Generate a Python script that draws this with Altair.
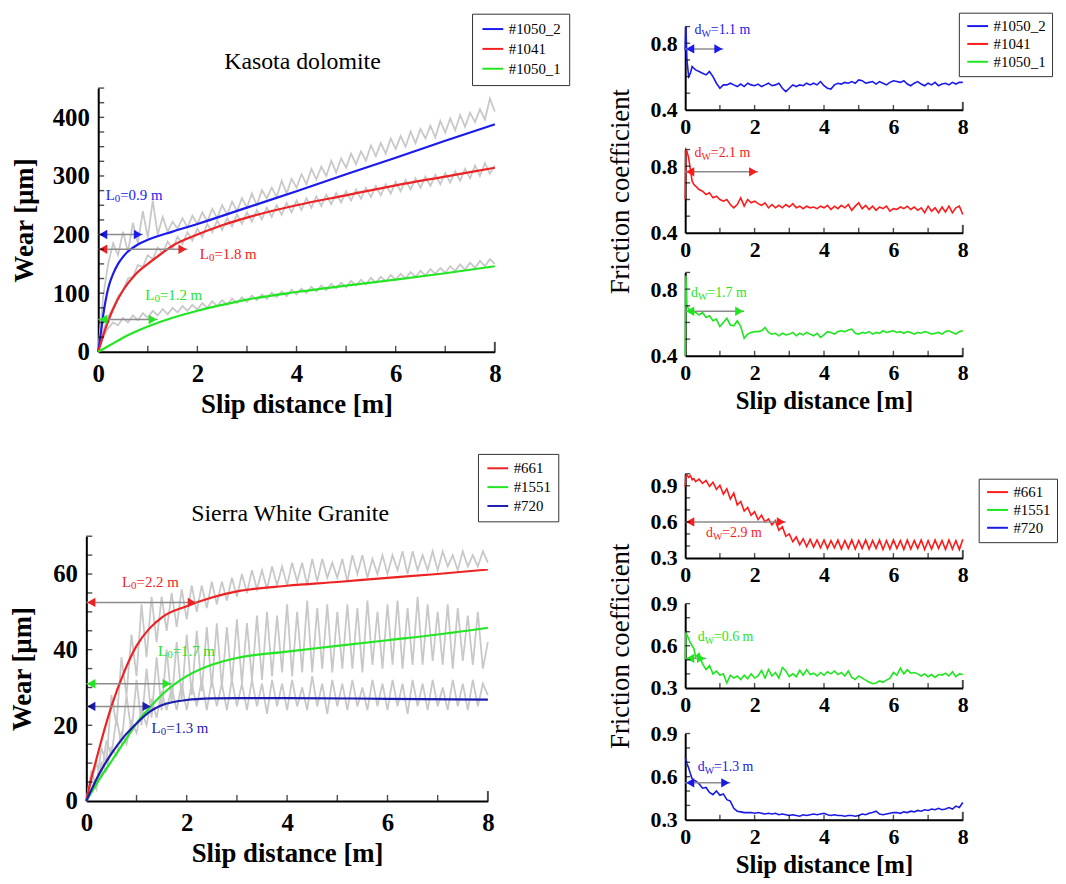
import altair as alt
import pandas as pd

FONT = "Liberation Serif"
RAW_GRAY = "#c8c8c8"
ARROW_GRAY = "#8c8c8c"

# sampling positions of the raw records (m)
X_W = [0.0, 0.1, 0.2, 0.3, 0.4, 0.5, 0.6, 0.7, 0.8, 0.9,
       1.0, 1.1, 1.2, 1.3, 1.4, 1.5, 1.6, 1.7, 1.8, 1.9,
       2.0, 2.1, 2.2, 2.3, 2.4, 2.5, 2.6, 2.7, 2.8, 2.9,
       3.0, 3.1, 3.2, 3.3, 3.4, 3.5, 3.6, 3.7, 3.8, 3.9,
       4.0, 4.1, 4.2, 4.3, 4.4, 4.5, 4.6, 4.7, 4.8, 4.9,
       5.0, 5.1, 5.2, 5.3, 5.4, 5.5, 5.6, 5.7, 5.8, 5.9,
       6.0, 6.1, 6.2, 6.3, 6.4, 6.5, 6.6, 6.7, 6.8, 6.9,
       7.0, 7.1, 7.2, 7.3, 7.4, 7.5, 7.6, 7.7, 7.8, 7.9,
       8.0]
X_F = [0.0, 0.02, 0.05, 0.1, 0.15, 0.2, 0.25, 0.3,
       0.4, 0.5, 0.6, 0.7, 0.8, 0.9, 1.0, 1.1, 1.2, 1.3,
       1.4, 1.5, 1.6, 1.7, 1.8, 1.9, 2.0, 2.1, 2.2, 2.3,
       2.4, 2.5, 2.6, 2.7, 2.8, 2.9, 3.0, 3.1, 3.2, 3.3,
       3.4, 3.5, 3.6, 3.7, 3.8, 3.9, 4.0, 4.1, 4.2, 4.3,
       4.4, 4.5, 4.6, 4.7, 4.8, 4.9, 5.0, 5.1, 5.2, 5.3,
       5.4, 5.5, 5.6, 5.7, 5.8, 5.9, 6.0, 6.1, 6.2, 6.3,
       6.4, 6.5, 6.6, 6.7, 6.8, 6.9, 7.0, 7.1, 7.2, 7.3,
       7.4, 7.5, 7.6, 7.7, 7.8, 7.9, 8.0]

# ---------------- Kasota dolomite: wear ----------------
KD_TITLE = "Kasota dolomite"
KD_NAMES = ["#1050_2", "#1041", "#1050_1"]
KD_COLORS = ["#1a1aee", "#ee2222", "#22e622"]
KD_RAW_1050_2 = [0, 95, 150, 185, 165, 205, 170, 220, 185, 240,
                 195, 258, 200, 230, 205, 222, 210, 228, 212, 232,
                 218, 238, 222, 244, 228, 250, 234, 256, 240, 262,
                 246, 270, 250, 276, 262, 280, 264, 292, 270, 295,
                 280, 303, 286, 312, 294, 316, 300, 326, 306, 330,
                 314, 338, 320, 342, 326, 352, 334, 356, 338, 364,
                 346, 368, 350, 376, 356, 380, 364, 386, 366, 394,
                 374, 398, 378, 404, 384, 408, 392, 414, 396, 432,
                 410]
KD_RAW_1041 = [0, 35, 60, 75, 95, 105, 125, 128, 148, 145,
               165, 158, 178, 168, 188, 176, 196, 184, 204, 190,
               210, 196, 218, 204, 224, 208, 228, 214, 234, 218,
               238, 222, 242, 226, 246, 230, 250, 234, 254, 238,
               258, 242, 262, 246, 265, 249, 268, 252, 271, 255,
               274, 258, 277, 261, 280, 264, 283, 267, 286, 270,
               290, 274, 293, 277, 296, 280, 299, 283, 302, 286,
               305, 289, 308, 292, 312, 296, 318, 300, 322, 304,
               318]
KD_RAW_1050_1 = [0, 25, 40, 50, 45, 58, 50, 62, 54, 66,
                 58, 70, 62, 73, 64, 75, 67, 78, 70, 80,
                 72, 83, 75, 86, 78, 88, 80, 91, 83, 93,
                 85, 96, 88, 98, 90, 101, 93, 103, 95, 106,
                 98, 108, 100, 111, 103, 113, 105, 116, 108, 118,
                 110, 121, 113, 123, 115, 126, 118, 128, 120, 131,
                 123, 133, 125, 136, 128, 138, 130, 141, 133, 143,
                 135, 146, 138, 149, 140, 152, 143, 155, 146, 158,
                 150]
KD_FIT_X_1050_2 = [0, 0.05, 0.1, 0.2, 0.3, 0.4, 0.5, 0.6, 0.8, 1.0, 1.5, 2, 3, 4, 5, 6, 7, 8]
KD_FIT_1050_2 = [0, 30, 62, 108, 133, 150, 162, 171, 183, 191, 205, 218, 246, 274, 303, 331, 360, 388]
KD_FIT_X_1041 = [0, 0.1, 0.2, 0.3, 0.5, 0.75, 1.0, 1.25, 1.5, 2.0, 2.5, 3.0, 4.0, 5.0, 6.0, 7.0, 8.0]
KD_FIT_1041 = [0, 28, 52, 73, 105, 132, 150, 166, 181, 200, 216, 229, 250, 267, 284, 299, 314]
KD_FIT_X_1050_1 = [0, 0.25, 0.5, 1.0, 1.5, 2.0, 2.5, 3.0, 4.0, 5.0, 6.0, 7.0, 8.0]
KD_FIT_1050_1 = [0, 12, 24, 43, 58, 70, 80, 89, 102, 113, 123, 134, 146]
KD_L0 = [0.9, 1.8, 1.2]
KD_ARROW_Y = [200, 175, 55]
KD_LABEL_X = [0.15, 2.05, 0.95]
KD_LABEL_Y = [268, 167, 97]
KD_LABEL = ["=0.9 m", "=1.8 m", "=1.2 m"]

# ---------------- Sierra White Granite: wear ----------------
SW_TITLE = "Sierra White Granite"
SW_NAMES = ["#661", "#1551", "#720"]
SW_COLORS = ["#ee2222", "#22e622", "#1c1cb0"]
SW_RAW_661 = [0, 8, 4, 14, 10, 28, 20, 38, 28, 44,
              33, 52, 38, 54, 42, 54, 45, 55, 46, 56,
              48, 57, 50, 57, 51, 58, 52, 58, 53, 59,
              54, 60, 55, 61, 56, 61, 56, 62, 57, 62,
              57, 63, 58, 63, 57, 64, 58, 64, 59, 63,
              59, 64, 58, 65, 60, 65, 59, 64, 60, 65,
              60, 65, 61, 66, 60, 66, 61, 65, 61, 66,
              61, 66, 62, 65, 61, 66, 62, 65, 62, 66,
              63]
SW_RAW_1551 = [0, 5, 10, 6, 16, 12, 22, 15, 28, 18,
               32, 20, 35, 22, 38, 24, 40, 26, 42, 27,
               44, 28, 45, 29, 46, 30, 47, 30, 46, 31,
               48, 31, 47, 32, 49, 32, 50, 33, 49, 34,
               52, 33, 50, 34, 53, 34, 51, 35, 52, 34,
               50, 35, 52, 35, 51, 34, 53, 36, 50, 35,
               52, 36, 53, 35, 51, 36, 54, 36, 52, 37,
               50, 36, 52, 35, 51, 37, 49, 36, 50, 35,
               42]
SW_RAW_720 = [0, 6, 3, 10, 8, 14, 12, 18, 15, 21,
              18, 24, 20, 27, 22, 29, 24, 30, 24, 31,
              24, 31, 25, 32, 24, 32, 25, 31, 24, 32,
              25, 31, 24, 32, 25, 31, 23, 32, 25, 31,
              24, 32, 25, 30, 24, 33, 25, 31, 23, 32,
              25, 31, 24, 32, 25, 30, 24, 32, 25, 31,
              24, 32, 25, 31, 23, 32, 25, 31, 24, 32,
              25, 30, 24, 32, 25, 31, 24, 32, 25, 31,
              28]
SW_FIT_X_661 = [0, 0.1, 0.2, 0.3, 0.5, 0.75, 1.0, 1.25, 1.5, 2.0, 2.5, 3.0, 4.0, 5.0, 6.0, 7.0, 8.0]
SW_FIT_661 = [0, 6, 11, 16, 25, 34, 41, 45.5, 48.5, 51.5, 53.8, 55.4, 56.9, 57.9, 59, 60, 61.2]
SW_FIT_X_1551 = [0, 0.25, 0.5, 0.75, 1.0, 1.25, 1.5, 2.0, 2.5, 3.0, 4.0, 5.0, 6.0, 7.0, 8.0]
SW_FIT_1551 = [0, 5.5, 10.5, 15.5, 20.5, 24.5, 28, 33, 36, 37.8, 39.5, 41, 42.5, 44, 45.8]
SW_FIT_X_720 = [0, 0.25, 0.5, 0.75, 1.0, 1.25, 1.5, 2.0, 2.5, 3.0, 4.0, 6.0, 8.0]
SW_FIT_720 = [0, 7, 12.5, 17, 20.5, 23.5, 25.3, 26.7, 27.1, 27.2, 27.2, 27, 26.8]
SW_L0 = [2.2, 1.7, 1.3]
SW_ARROW_Y = [52.5, 31, 25]
SW_LABEL_X = [0.71, 1.43, 1.3]
SW_LABEL_Y = [58, 39.7, 19.2]
SW_LABEL = ["=2.2 m", "=1.7 m", "=1.3 m"]

# ---------------- friction coefficients ----------------
TR_NAMES = ["#1050_2", "#1041", "#1050_1"]
TR_COLORS = ["#1a1aee", "#ff1a1a", "#1ee61e"]
FR_1050_2 = [0.76, 0.90, 0.70, 0.60, 0.62, 0.66, 0.65, 0.64,
             0.63, 0.62, 0.61, 0.63, 0.60, 0.56, 0.53, 0.55, 0.55, 0.56,
             0.55, 0.54, 0.555, 0.54, 0.56, 0.55, 0.545, 0.555, 0.54, 0.55,
             0.56, 0.545, 0.55, 0.56, 0.53, 0.51, 0.53, 0.55, 0.54, 0.55,
             0.545, 0.56, 0.55, 0.56, 0.55, 0.57, 0.545, 0.53, 0.525, 0.55,
             0.56, 0.555, 0.565, 0.56, 0.57, 0.56, 0.58, 0.575, 0.56, 0.565,
             0.57, 0.555, 0.57, 0.56, 0.55, 0.565, 0.575, 0.57, 0.565, 0.575,
             0.555, 0.545, 0.56, 0.57, 0.555, 0.545, 0.56, 0.55, 0.565, 0.545,
             0.555, 0.56, 0.55, 0.565, 0.555, 0.565, 0.565]
FR_1041 = [0.60, 0.90, 0.89, 0.85, 0.78, 0.71, 0.69, 0.68,
           0.66, 0.65, 0.63, 0.64, 0.61, 0.62, 0.60, 0.59, 0.60, 0.57,
           0.55, 0.57, 0.61, 0.56, 0.60, 0.58, 0.59, 0.575, 0.565, 0.58,
           0.55, 0.57, 0.55, 0.565, 0.55, 0.57, 0.555, 0.575, 0.55, 0.56,
           0.545, 0.56, 0.55, 0.555, 0.545, 0.56, 0.55, 0.565, 0.54, 0.56,
           0.545, 0.565, 0.55, 0.57, 0.535, 0.56, 0.58, 0.545, 0.565, 0.54,
           0.56, 0.535, 0.555, 0.545, 0.56, 0.53, 0.545, 0.54, 0.555, 0.545,
           0.56, 0.54, 0.555, 0.535, 0.55, 0.52, 0.56, 0.53, 0.55, 0.52,
           0.555, 0.525, 0.56, 0.52, 0.55, 0.56, 0.51]
FR_1050_1 = [0.40, 0.88, 0.70, 0.68, 0.675, 0.67, 0.665, 0.66,
             0.645, 0.66, 0.63, 0.64, 0.61, 0.62, 0.575, 0.60, 0.625, 0.585,
             0.58, 0.61, 0.575, 0.505, 0.53, 0.54, 0.545, 0.545, 0.55, 0.57,
             0.54, 0.53, 0.535, 0.52, 0.535, 0.525, 0.53, 0.54, 0.52, 0.535,
             0.525, 0.54, 0.53, 0.52, 0.535, 0.51, 0.525, 0.545, 0.54, 0.53,
             0.545, 0.55, 0.545, 0.555, 0.56, 0.535, 0.53, 0.54, 0.535, 0.545,
             0.53, 0.54, 0.535, 0.55, 0.54, 0.545, 0.55, 0.54, 0.545, 0.535,
             0.545, 0.54, 0.53, 0.54, 0.535, 0.545, 0.54, 0.53, 0.535, 0.54,
             0.53, 0.545, 0.55, 0.54, 0.53, 0.545, 0.55]
TR_DW = [1.1, 2.1, 1.7]
TR_ARROW_Y = [0.766, 0.766, 0.667]
TR_LABEL_X = [0.27, 0.27, 0.17]
TR_LABEL_Y = [0.88, 0.88, 0.776]
TR_LABEL = ["=1.1 m", "=2.1 m", "=1.7 m"]

BR_NAMES = ["#661", "#1551", "#720"]
BR_COLORS = ["#ff1a1a", "#1ee61e", "#1a1ae6"]
FR_661 = [0.89, 0.98, 0.99, 0.97, 0.985, 0.95, 0.96, 0.935,
          0.955, 0.92, 0.945, 0.895, 0.93, 0.87, 0.905, 0.83, 0.875, 0.79,
          0.84, 0.74, 0.77, 0.69, 0.72, 0.655, 0.685, 0.62, 0.655, 0.60,
          0.625, 0.575, 0.61, 0.53, 0.56, 0.48, 0.50, 0.435, 0.475, 0.41,
          0.46, 0.395, 0.455, 0.39, 0.45, 0.385, 0.45, 0.38, 0.445, 0.385,
          0.45, 0.375, 0.445, 0.38, 0.45, 0.375, 0.445, 0.38, 0.45, 0.375,
          0.445, 0.38, 0.45, 0.37, 0.445, 0.375, 0.45, 0.38, 0.445, 0.37,
          0.45, 0.375, 0.445, 0.38, 0.45, 0.37, 0.445, 0.375, 0.45, 0.38,
          0.445, 0.37, 0.45, 0.375, 0.445, 0.37, 0.455]
FR_1551 = [0.50, 0.69, 0.68, 0.65, 0.62, 0.60, 0.58, 0.52,
           0.545, 0.47, 0.43, 0.46, 0.40, 0.42, 0.39, 0.40, 0.335, 0.39,
           0.37, 0.385, 0.36, 0.39, 0.365, 0.40, 0.37, 0.385, 0.425, 0.37,
           0.43, 0.385, 0.41, 0.37, 0.445, 0.42, 0.38, 0.40, 0.38, 0.425,
           0.39, 0.43, 0.395, 0.405, 0.385, 0.41, 0.39, 0.415, 0.40, 0.42,
           0.395, 0.41, 0.385, 0.42, 0.375, 0.36, 0.385, 0.37, 0.355, 0.34,
           0.33, 0.335, 0.35, 0.34, 0.355, 0.37, 0.41, 0.39, 0.44, 0.40,
           0.43, 0.405, 0.41, 0.40, 0.385, 0.40, 0.38, 0.395, 0.375, 0.395,
           0.39, 0.405, 0.385, 0.415, 0.38, 0.40, 0.395]
FR_720 = [0.73, 0.72, 0.69, 0.66, 0.62, 0.585, 0.575, 0.57,
          0.55, 0.52, 0.525, 0.49, 0.475, 0.50, 0.47, 0.48, 0.44, 0.43,
          0.38, 0.36, 0.355, 0.35, 0.35, 0.35, 0.345, 0.35, 0.345, 0.34,
          0.345, 0.34, 0.345, 0.335, 0.34, 0.335, 0.33, 0.335, 0.33, 0.325,
          0.335, 0.33, 0.335, 0.34, 0.335, 0.34, 0.345, 0.335, 0.33, 0.335,
          0.33, 0.33, 0.325, 0.33, 0.33, 0.325, 0.33, 0.34, 0.335, 0.345,
          0.35, 0.36, 0.34, 0.335, 0.34, 0.345, 0.35, 0.35, 0.345, 0.355,
          0.35, 0.36, 0.355, 0.365, 0.36, 0.37, 0.365, 0.375, 0.37, 0.38,
          0.37, 0.375, 0.385, 0.375, 0.395, 0.385, 0.42]
BR_DW = [2.9, 0.6, 1.3]
BR_ARROW_Y = [0.6, 0.51, 0.557]
BR_LABEL_X = [0.6, 0.36, 0.36]
BR_LABEL_Y = [0.505, 0.66, 0.67]
BR_LABEL = ["=2.9 m", "=0.6 m", "=1.3 m"]

X_MAJOR = [0, 2, 4, 6, 8]
X_MINOR = [1, 2, 3, 4, 5, 6, 7]


def axis(**kw):
    d = dict(grid=False, ticks=False, domainColor="black", domainWidth=2,
             labelFont=FONT, labelFontWeight="bold", labelColor="black",
             titleFont=FONT, titleColor="black", labelFlush=False, labelOverlap=False)
    d.update(kw)
    return alt.Axis(**d)


def legend(lx, ly, pad=6, rowpad=4):
    return alt.Legend(title=None, orient="none", legendX=lx, legendY=ly, direction="vertical",
                      fillColor="white", strokeColor="#333333", padding=pad,
                      symbolType="M-1,0H3.2", symbolSize=100, symbolStrokeWidth=2,
                      labelFont=FONT, labelFontSize=15, labelColor="black",
                      labelOffset=14, rowPadding=rowpad, labelLimit=200)


class Enc:
    """positional channel builders sharing one scale and one axis per panel"""
    def __init__(self, xs, ys, xa, ya):
        self.xs, self.ys, self.xa, self.ya = xs, ys, xa, ya

    def X(self, f):
        return alt.X(f, scale=self.xs, axis=self.xa)

    def Y(self, f):
        return alt.Y(f, scale=self.ys, axis=self.ya)


def spacer():
    return alt.Chart(pd.DataFrame({"a": [0]})).mark_point(opacity=0, size=0).encode(
        x=alt.value(0), y=alt.value(0)).properties(width=1, height=1)


def tick_layers(E, yvals, y0, size=6, endsize=10):
    xdf = pd.DataFrame({"t": X_MINOR, "b": [y0] * len(X_MINOR)})
    edf = pd.DataFrame({"t": [8], "b": [y0]})
    ydf = pd.DataFrame({"t": yvals, "b": [0] * len(yvals)})
    xt = alt.Chart(xdf).mark_tick(orient="vertical", size=size, thickness=1.4, color="black",
                                  yOffset=-size / 2).encode(x=E.X("t:Q"), y=E.Y("b:Q"))
    xe = alt.Chart(edf).mark_tick(orient="vertical", size=endsize, thickness=2, color="black",
                                  yOffset=-endsize / 2).encode(x=E.X("t:Q"), y=E.Y("b:Q"))
    yt = alt.Chart(ydf).mark_tick(orient="horizontal", size=size, thickness=1.4, color="black",
                                  xOffset=size / 2).encode(x=E.X("b:Q"), y=E.Y("t:Q"))
    return [xt, xe, yt]


def annot_layers(E, ends, ay, colors, lx, ly, rest, base, sub, bsize, ssize, wb, wsub):
    adf = pd.DataFrame({"x0": [0] * len(ends), "x1": ends, "y": ay, "c": colors})
    tdf = pd.DataFrame({"x": lx, "y": ly, "rest": rest, "c": colors})
    F = alt.Fill("c:N", scale=None)
    line = alt.Chart(adf).mark_rule(color=ARROW_GRAY, strokeWidth=1.5).encode(
        x=E.X("x0:Q"), x2="x1:Q", y=E.Y("y:Q"))
    lh = alt.Chart(adf).mark_point(shape="triangle-left", filled=True, size=90, opacity=1,
                                   strokeWidth=0, xOffset=5).encode(x=E.X("x0:Q"), y=E.Y("y:Q"), fill=F)
    rh = alt.Chart(adf).mark_point(shape="triangle-right", filled=True, size=90, opacity=1,
                                   strokeWidth=0, xOffset=-5).encode(x=E.X("x1:Q"), y=E.Y("y:Q"), fill=F)
    t1 = alt.Chart(tdf).mark_text(align="left", baseline="middle", font=FONT, fontSize=bsize,
                                  text=base).encode(x=E.X("x:Q"), y=E.Y("y:Q"), fill=F)
    t2 = alt.Chart(tdf).mark_text(align="left", baseline="middle", font=FONT, fontSize=ssize,
                                  text=sub, dx=wb, dy=4).encode(x=E.X("x:Q"), y=E.Y("y:Q"), fill=F)
    t3 = alt.Chart(tdf).mark_text(align="left", baseline="middle", font=FONT, fontSize=bsize,
                                  dx=wb + wsub).encode(x=E.X("x:Q"), y=E.Y("y:Q"), fill=F, text="rest:N")
    return [line, lh, rh, t1, t2, t3]


def wear_panel(title, title_x, title_dy, raws, fits, names, colors, ymax, yvals, ytick_vals,
               w, h, lx, ly, tpad, ends, ay, labx, laby, rest, lpad, lrow):
    xs = alt.Scale(domain=[0, 8], nice=False)
    ys = alt.Scale(domain=[0, ymax], nice=False)
    xaxis = axis(values=X_MAJOR, format="d", labelFontSize=25, labelPadding=10, orient="bottom",
                 title="Slip distance [m]", titleFontSize=27, titleFontWeight="bold", titlePadding=5)
    yaxis = axis(values=yvals, format="d", labelFontSize=25, labelPadding=9, orient="left",
                 title="Wear [μm]", titleFontSize=27, titleFontWeight="bold", titlePadding=tpad)
    E = Enc(xs, ys, xaxis, yaxis)
    rx, ry, rs = [], [], []
    for i, r in enumerate(raws):
        for a, b in zip(X_W, r):
            rx.append(a); ry.append(b); rs.append(i)
    raw_df = pd.DataFrame({"x": rx, "y": ry, "s": rs})
    fx, fy, fn = [], [], []
    for n, xv, yv in fits:
        for a, b in zip(xv, yv):
            fx.append(a); fy.append(b); fn.append(n)
    fit_df = pd.DataFrame({"x": fx, "y": fy, "name": fn})
    raw = alt.Chart(raw_df).mark_line(color=RAW_GRAY, strokeWidth=1.8).encode(
        x=E.X("x:Q"), y=E.Y("y:Q"), detail="s:N")
    fit = alt.Chart(fit_df).mark_line(strokeWidth=2.2, interpolate="monotone").encode(
        x=E.X("x:Q"), y=E.Y("y:Q"),
        color=alt.Color("name:N", scale=alt.Scale(domain=names, range=colors),
                        legend=legend(lx, ly, lpad, lrow)))
    tdf = pd.DataFrame({"x": [title_x], "y": [ymax], "t": [title]})
    ttl = alt.Chart(tdf).mark_text(font=FONT, fontSize=24, color="black", align="center",
                                   baseline="middle", dy=title_dy).encode(
        x=E.X("x:Q"), y=E.Y("y:Q"), text="t:N")
    layers = [raw, fit, ttl] + annot_layers(E, ends, ay, colors, labx, laby, rest,
                                            "L", "0", 15, 11, 9.2, 5.5)
    layers += tick_layers(E, ytick_vals, 0)
    return alt.layer(*layers).properties(width=w, height=h)


def fric_panel(vals, name, color, ydom, yvals, ytick_vals, w, h, end, ay, labx, laby, rest,
               names=None, colors=None, lx=0, ly=0, ytitle=False, xtitle=False):
    xs = alt.Scale(domain=[0, 8], nice=False)
    ys = alt.Scale(domain=ydom, nice=False)
    xaxis = axis(values=X_MAJOR, format="d", labelFontSize=22, labelPadding=7, orient="bottom",
                 title="Slip distance [m]" if xtitle else "", titleFontSize=25,
                 titleFontWeight="bold", titlePadding=5)
    yaxis = axis(values=yvals, format=".1f", labelFontSize=22, labelPadding=8, orient="left",
                 title="Friction coefficient" if ytitle else "", titleFontSize=27,
                 titleFontWeight="normal", titlePadding=16)
    E = Enc(xs, ys, xaxis, yaxis)
    df = pd.DataFrame({"x": X_F, "y": vals, "name": [name] * len(X_F)})
    if names is not None:
        line = alt.Chart(df).mark_line(strokeWidth=1.6).encode(
            x=E.X("x:Q"), y=E.Y("y:Q"),
            color=alt.Color("name:N", scale=alt.Scale(domain=names, range=colors),
                            legend=legend(lx, ly, 6, 2)))
    else:
        line = alt.Chart(df).mark_line(strokeWidth=1.6, color=color).encode(x=E.X("x:Q"), y=E.Y("y:Q"))
    layers = [line] + annot_layers(E, [end], [ay], [color], [labx], [laby], [rest],
                                   "d", "W", 14, 10, 7.0, 9.4)
    layers += tick_layers(E, ytick_vals, ydom[0], size=5, endsize=8)
    return alt.layer(*layers).properties(width=w, height=h)


TL = wear_panel(KD_TITLE, 4.12, -26,
                [KD_RAW_1050_2, KD_RAW_1041, KD_RAW_1050_1],
                [(KD_NAMES[0], KD_FIT_X_1050_2, KD_FIT_1050_2),
                 (KD_NAMES[1], KD_FIT_X_1041, KD_FIT_1041),
                 (KD_NAMES[2], KD_FIT_X_1050_1, KD_FIT_1050_1)],
                KD_NAMES, KD_COLORS, 450, [0, 100, 200, 300, 400],
                [25, 50, 75, 100, 125, 150, 175, 200, 225, 250, 275, 300, 325, 350, 375, 400, 425, 450],
                400, 266, 377, -75, 14,
                KD_L0, KD_ARROW_Y, KD_LABEL_X, KD_LABEL_Y, KD_LABEL, 8, 4)

BL = wear_panel(SW_TITLE, 4.06, -22,
                [SW_RAW_661, SW_RAW_1551, SW_RAW_720],
                [(SW_NAMES[0], SW_FIT_X_661, SW_FIT_661),
                 (SW_NAMES[1], SW_FIT_X_1551, SW_FIT_1551),
                 (SW_NAMES[2], SW_FIT_X_720, SW_FIT_720)],
                SW_NAMES, SW_COLORS, 70, [0, 20, 40, 60],
                [5, 10, 15, 20, 25, 30, 35, 40, 45, 50, 55, 60, 65, 70],
                405, 267, 395, -83, 16,
                SW_L0, SW_ARROW_Y, SW_LABEL_X, SW_LABEL_Y, SW_LABEL, 7, 3)

TR_TICKS = [0.5, 0.6, 0.7, 0.8, 0.9]
TR1 = fric_panel(FR_1050_2, TR_NAMES[0], TR_COLORS[0], [0.4, 0.9], [0.4, 0.8], TR_TICKS, 280, 84,
                 TR_DW[0], TR_ARROW_Y[0], TR_LABEL_X[0], TR_LABEL_Y[0], TR_LABEL[0],
                 names=TR_NAMES, colors=TR_COLORS, lx=276, ly=-14)
TR2 = fric_panel(FR_1041, TR_NAMES[1], TR_COLORS[1], [0.4, 0.9], [0.4, 0.8], TR_TICKS, 280, 84,
                 TR_DW[1], TR_ARROW_Y[1], TR_LABEL_X[1], TR_LABEL_Y[1], TR_LABEL[1], ytitle=True)
TR3 = fric_panel(FR_1050_1, TR_NAMES[2], TR_COLORS[2], [0.4, 0.9], [0.4, 0.8], TR_TICKS, 280, 84,
                 TR_DW[2], TR_ARROW_Y[2], TR_LABEL_X[2], TR_LABEL_Y[2], TR_LABEL[2], xtitle=True)

BR1 = fric_panel(FR_661, BR_NAMES[0], BR_COLORS[0], [0.3, 1.0], [0.3, 0.6, 0.9],
                 [0.4, 0.5, 0.6, 0.7, 0.8, 0.9, 1.0], 280, 85,
                 BR_DW[0], BR_ARROW_Y[0], BR_LABEL_X[0], BR_LABEL_Y[0], BR_LABEL[0],
                 names=BR_NAMES, colors=BR_COLORS, lx=296, ly=5)
BR2 = fric_panel(FR_1551, BR_NAMES[1], BR_COLORS[1], [0.3, 0.9], [0.3, 0.6, 0.9],
                 [0.4, 0.5, 0.6, 0.7, 0.8, 0.9], 280, 85,
                 BR_DW[1], BR_ARROW_Y[1], BR_LABEL_X[1], BR_LABEL_Y[1], BR_LABEL[1], ytitle=True)
BR3 = fric_panel(FR_720, BR_NAMES[2], BR_COLORS[2], [0.3, 0.9], [0.3, 0.6, 0.9],
                 [0.4, 0.5, 0.6, 0.7, 0.8, 0.9], 280, 87,
                 BR_DW[2], BR_ARROW_Y[2], BR_LABEL_X[2], BR_LABEL_Y[2], BR_LABEL[2], xtitle=True)


def indep(c):
    return c.resolve_scale(x="independent", y="independent", color="independent").resolve_legend(
        color="independent")


tl_row = indep(alt.hconcat(spacer(), TL, spacing=-78))
left_inner = indep(alt.vconcat(tl_row, BL, spacing=36))
left = indep(alt.vconcat(spacer(), left_inner, spacing=-15))
tr = indep(alt.vconcat(TR1, TR2, TR3, spacing=40, bounds="flush"))
br = indep(alt.vconcat(BR1, BR2, BR3, spacing=46, bounds="flush"))
right = indep(alt.vconcat(tr, br, spacing=59))
chart = indep(alt.hconcat(left, right, spacing=36)).properties(
    padding={"left": 1, "top": 0, "right": 0, "bottom": 0}, background="white"
).configure_view(stroke=None)

chart.save("out.html", embed_options={"renderer": "svg", "actions": False})
